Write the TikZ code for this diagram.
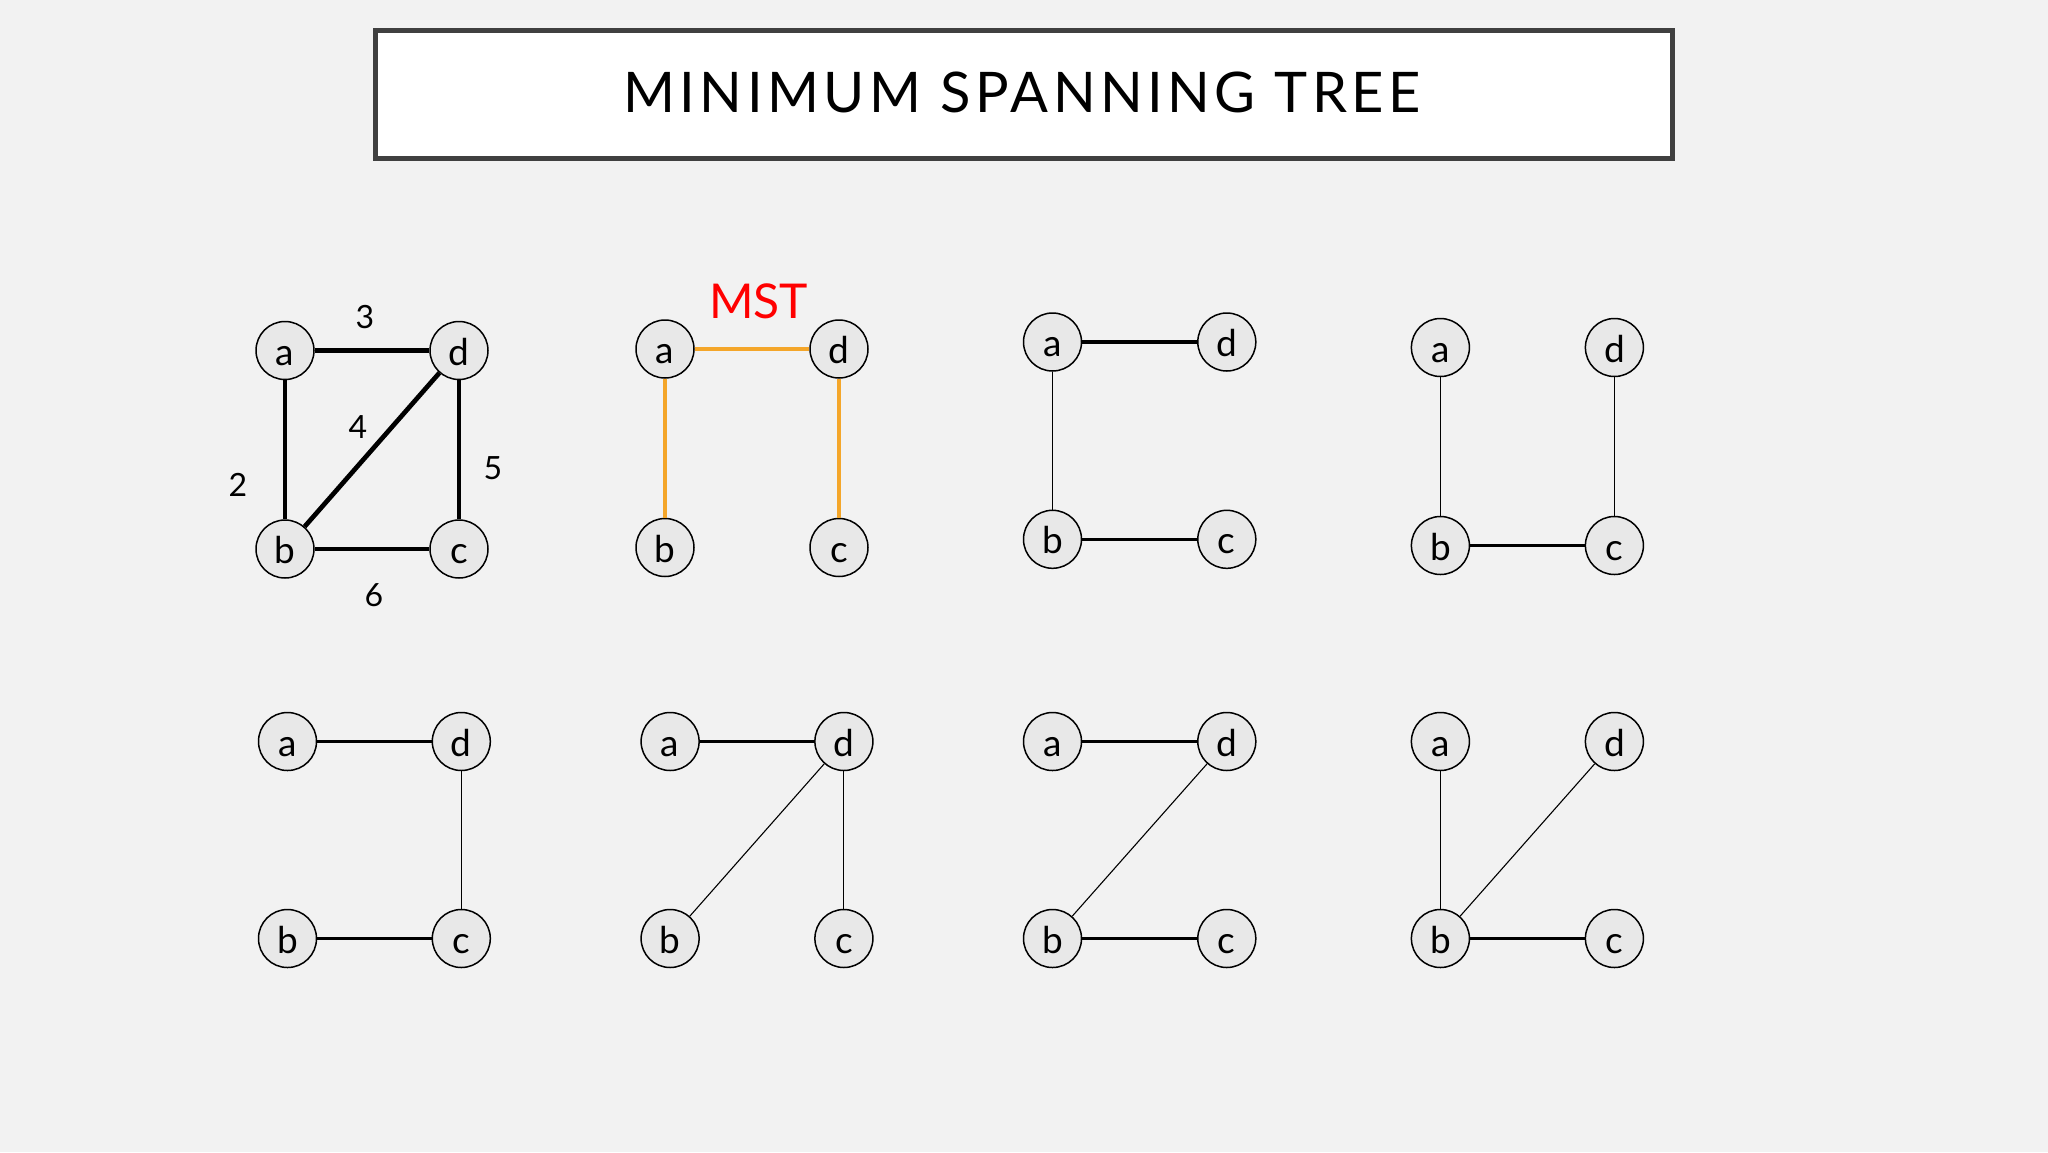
\documentclass[tikz,border=0pt]{standalone}
\usepackage{fontspec}
\setmainfont{Lato}
\newfontfamily\titlefont[LetterSpace=8]{Lato}
\definecolor{bg}{HTML}{F2F2F2}
\definecolor{nodegray}{HTML}{E8E8E8}
\definecolor{boxgray}{HTML}{404040}
\definecolor{mstorange}{HTML}{F4A62A}
\definecolor{mstred}{HTML}{FF0000}
\tikzset{
  vert/.style={circle, draw=black, line width=1.5pt, fill=nodegray, minimum size=58pt,
    inner sep=0pt, font=\fontsize{37}{40}\selectfont, text height=29pt, text depth=0pt},
  wlabel/.style={inner sep=0pt, font=\fontsize{32}{36}\selectfont},
  heavyedge/.style={line width=4.7pt, black},
  orangeedge/.style={line width=4.5pt, mstorange},
  thickedge/.style={line width=3.5pt, black},
  thinedge/.style={line width=1.1pt, black},
}
\begin{document}
\begin{tikzpicture}[x=1pt,y=-1pt]
\fill[bg] (0,0) rectangle (2048,1152);
\useasboundingbox (0,0) rectangle (2048,1152);
% title
\draw[boxgray, fill=white, line width=5pt] (375.2,30.8) rectangle (1672.2,158.5);
\node[anchor=base, inner sep=0pt, font=\titlefont\fontsize{56}{60}\selectfont] (title) at (1022,112.3) {MINIMUM SPANNING TREE};

% graph 1: weighted
\node[vert] (a1) at (285,350.5) {a};
\node[vert] (d1) at (459,350.5) {d};
\node[vert] (b1) at (285,549) {b};
\node[vert] (c1) at (459,549) {c};
\draw[heavyedge] (a1) -- (d1);
\draw[heavyedge] (a1) -- (b1);
\draw[heavyedge] (b1) -- (d1);
\draw[heavyedge] (d1) -- (c1);
\draw[heavyedge] (b1) -- (c1);
\node[wlabel] (w3) at (365,317) {3};
\node[wlabel] (w2) at (238,485) {2};
\node[wlabel] (w4) at (358,427) {4};
\node[wlabel] (w5) at (493,468) {5};
\node[wlabel] (w6) at (374,595) {6};

% graph 2: MST
\node[vert] (a2) at (665,349) {a};
\node[vert] (d2) at (839,349) {d};
\node[vert] (b2) at (665,547.5) {b};
\node[vert] (c2) at (839,547.5) {c};
\draw[orangeedge] (a2) -- (d2);
\draw[orangeedge] (a2) -- (b2);
\draw[orangeedge] (d2) -- (c2);
\node[anchor=base, inner sep=0pt, text=mstred, font=\fontsize{48}{52}\selectfont] (mst) at (758.5,318) {MST};

% graph 3
\node[vert] (a3) at (1052.5,342) {a};
\node[vert] (d3) at (1226.8,342) {d};
\node[vert] (b3) at (1052.5,539.3) {b};
\node[vert] (c3) at (1226.8,539.3) {c};
\draw[thickedge] (a3) -- (d3);
\draw[thinedge] (a3) -- (b3);
\draw[thickedge] (b3) -- (c3);

% graph 4
\node[vert] (a4) at (1440.4,347.5) {a};
\node[vert] (d4) at (1614.4,347.5) {d};
\node[vert] (b4) at (1440.4,545.5) {b};
\node[vert] (c4) at (1614.4,545.5) {c};
\draw[thinedge] (a4) -- (b4);
\draw[thinedge] (d4) -- (c4);
\draw[thickedge] (b4) -- (c4);

% graph 5
\node[vert] (a5) at (287.5,741.5) {a};
\node[vert] (d5) at (461.3,741.5) {d};
\node[vert] (b5) at (287.5,938.5) {b};
\node[vert] (c5) at (461.3,938.5) {c};
\draw[thickedge] (a5) -- (d5);
\draw[thinedge] (d5) -- (c5);
\draw[thickedge] (b5) -- (c5);

% graph 6
\node[vert] (a6) at (670.1,741.5) {a};
\node[vert] (d6) at (843.9,741.5) {d};
\node[vert] (b6) at (670.1,938.5) {b};
\node[vert] (c6) at (843.9,938.5) {c};
\draw[thickedge] (a6) -- (d6);
\draw[thinedge] (d6) -- (b6);
\draw[thinedge] (d6) -- (c6);

% graph 7
\node[vert] (a7) at (1052.5,741.5) {a};
\node[vert] (d7) at (1226.8,741.5) {d};
\node[vert] (b7) at (1052.5,938.5) {b};
\node[vert] (c7) at (1226.8,938.5) {c};
\draw[thickedge] (a7) -- (d7);
\draw[thinedge] (d7) -- (b7);
\draw[thickedge] (b7) -- (c7);

% graph 8
\node[vert] (a8) at (1440.4,741.5) {a};
\node[vert] (d8) at (1614.4,741.5) {d};
\node[vert] (b8) at (1440.4,938.5) {b};
\node[vert] (c8) at (1614.4,938.5) {c};
\draw[thinedge] (a8) -- (b8);
\draw[thinedge] (d8) -- (b8);
\draw[thickedge] (b8) -- (c8);
\end{tikzpicture}
\end{document}
